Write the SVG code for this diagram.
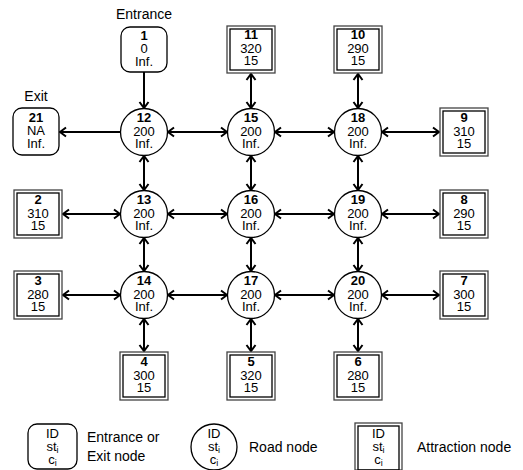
<svg xmlns="http://www.w3.org/2000/svg" width="523" height="470" viewBox="0 0 523 470">
<style>
text{font-family:"Liberation Sans",Arial,sans-serif;font-size:13px;fill:#000;text-anchor:middle}
.b{font-weight:bold}
.lbl{font-size:14px}
.lg{font-size:14px;text-anchor:start}
.sub{font-size:9px}
.n{fill:#fff;stroke:#000;stroke-width:1.3}
.o{fill:#fff;stroke:#444;stroke-width:1.3}
.i{fill:none;stroke:#000;stroke-width:1.3}
.c line{stroke:#000;stroke-width:2}
</style>
<defs>
<marker id="a" markerUnits="userSpaceOnUse" markerWidth="12" markerHeight="12" refX="8" refY="6" orient="auto-start-reverse" viewBox="0 0 12 12">
<path d="M2,1.5 L8,6 L2,10.5" fill="none" stroke="#000" stroke-width="2"/>
</marker>
</defs>
<text class="lbl" x="144" y="19">Entrance</text>
<text class="lbl" x="36" y="101">Exit</text>
<g class="c" id="connectors">
<line x1="144" y1="72" x2="144" y2="108" marker-end="url(#a)"/>
<line x1="121" y1="132" x2="60" y2="132" marker-end="url(#a)"/>
<line x1="168" y1="132" x2="227" y2="132" marker-start="url(#a)" marker-end="url(#a)"/>
<line x1="275" y1="132" x2="334" y2="132" marker-start="url(#a)" marker-end="url(#a)"/>
<line x1="382" y1="132" x2="439" y2="132" marker-start="url(#a)" marker-end="url(#a)"/>
<line x1="63" y1="214" x2="120" y2="214" marker-start="url(#a)" marker-end="url(#a)"/>
<line x1="168" y1="214" x2="227" y2="214" marker-start="url(#a)" marker-end="url(#a)"/>
<line x1="275" y1="214" x2="334" y2="214" marker-start="url(#a)" marker-end="url(#a)"/>
<line x1="382" y1="214" x2="439" y2="214" marker-start="url(#a)" marker-end="url(#a)"/>
<line x1="63" y1="295" x2="120" y2="295" marker-start="url(#a)" marker-end="url(#a)"/>
<line x1="168" y1="295" x2="227" y2="295" marker-start="url(#a)" marker-end="url(#a)"/>
<line x1="275" y1="295" x2="334" y2="295" marker-start="url(#a)" marker-end="url(#a)"/>
<line x1="382" y1="295" x2="439" y2="295" marker-start="url(#a)" marker-end="url(#a)"/>
<line x1="251" y1="74" x2="251" y2="108" marker-start="url(#a)" marker-end="url(#a)"/>
<line x1="358" y1="74" x2="358" y2="108" marker-start="url(#a)" marker-end="url(#a)"/>
<line x1="144" y1="156" x2="144" y2="190" marker-start="url(#a)" marker-end="url(#a)"/>
<line x1="251" y1="156" x2="251" y2="190" marker-start="url(#a)" marker-end="url(#a)"/>
<line x1="358" y1="156" x2="358" y2="190" marker-start="url(#a)" marker-end="url(#a)"/>
<line x1="144" y1="238" x2="144" y2="271" marker-start="url(#a)" marker-end="url(#a)"/>
<line x1="251" y1="238" x2="251" y2="271" marker-start="url(#a)" marker-end="url(#a)"/>
<line x1="358" y1="238" x2="358" y2="271" marker-start="url(#a)" marker-end="url(#a)"/>
<line x1="144" y1="319" x2="144" y2="351" marker-start="url(#a)" marker-end="url(#a)"/>
<line x1="251" y1="319" x2="251" y2="351" marker-start="url(#a)" marker-end="url(#a)"/>
<line x1="358" y1="319" x2="358" y2="351" marker-start="url(#a)" marker-end="url(#a)"/>
</g>
<g id="n1"><rect class="n" x="121" y="27" width="46" height="45" rx="9"/><text class="b" x="144" y="40">1</text><text x="144" y="53">0</text><text x="144" y="66">Inf.</text></g>
<g id="n21"><rect class="n" x="13" y="108" width="46" height="47" rx="9"/><text class="b" x="36" y="122">21</text><text x="36" y="135">NA</text><text x="36" y="148">Inf.</text></g>
<g id="n12"><circle class="n" cx="144" cy="132" r="23.5"/><text class="b" x="144" y="122">12</text><text x="144" y="135.5">200</text><text x="144" y="148">Inf.</text></g>
<g id="n15"><circle class="n" cx="251" cy="132" r="23.5"/><text class="b" x="251" y="122">15</text><text x="251" y="135.5">200</text><text x="251" y="148">Inf.</text></g>
<g id="n18"><circle class="n" cx="358" cy="132" r="23.5"/><text class="b" x="358" y="122">18</text><text x="358" y="135.5">200</text><text x="358" y="148">Inf.</text></g>
<g id="n13"><circle class="n" cx="144" cy="214" r="23.5"/><text class="b" x="144" y="204">13</text><text x="144" y="217.5">200</text><text x="144" y="230">Inf.</text></g>
<g id="n16"><circle class="n" cx="251" cy="214" r="23.5"/><text class="b" x="251" y="204">16</text><text x="251" y="217.5">200</text><text x="251" y="230">Inf.</text></g>
<g id="n19"><circle class="n" cx="358" cy="214" r="23.5"/><text class="b" x="358" y="204">19</text><text x="358" y="217.5">200</text><text x="358" y="230">Inf.</text></g>
<g id="n14"><circle class="n" cx="144" cy="295" r="23.5"/><text class="b" x="144" y="285">14</text><text x="144" y="298.5">200</text><text x="144" y="311">Inf.</text></g>
<g id="n17"><circle class="n" cx="251" cy="295" r="23.5"/><text class="b" x="251" y="285">17</text><text x="251" y="298.5">200</text><text x="251" y="311">Inf.</text></g>
<g id="n20"><circle class="n" cx="358" cy="295" r="23.5"/><text class="b" x="358" y="285">20</text><text x="358" y="298.5">200</text><text x="358" y="311">Inf.</text></g>
<g id="n11"><rect class="o" x="227" y="26" width="48" height="47"/><rect class="i" x="230" y="29" width="42" height="41"/><text class="b" x="251" y="39">11</text><text x="251" y="52.5">320</text><text x="251" y="65">15</text></g>
<g id="n10"><rect class="o" x="334" y="26" width="48" height="47"/><rect class="i" x="337" y="29" width="42" height="41"/><text class="b" x="358" y="39">10</text><text x="358" y="52.5">290</text><text x="358" y="65">15</text></g>
<g id="n9"><rect class="o" x="440" y="108" width="48" height="48"/><rect class="i" x="443" y="111" width="42" height="42"/><text class="b" x="464" y="122">9</text><text x="464" y="135.5">310</text><text x="464" y="148">15</text></g>
<g id="n8"><rect class="o" x="440" y="190" width="48" height="48"/><rect class="i" x="443" y="193" width="42" height="42"/><text class="b" x="464" y="204">8</text><text x="464" y="217.5">290</text><text x="464" y="230">15</text></g>
<g id="n7"><rect class="o" x="440" y="271" width="48" height="48"/><rect class="i" x="443" y="274" width="42" height="42"/><text class="b" x="464" y="285">7</text><text x="464" y="298.5">300</text><text x="464" y="311">15</text></g>
<g id="n2"><rect class="o" x="14" y="190" width="48" height="48"/><rect class="i" x="17" y="193" width="42" height="42"/><text class="b" x="38" y="204">2</text><text x="38" y="217.5">310</text><text x="38" y="230">15</text></g>
<g id="n3"><rect class="o" x="14" y="271" width="48" height="48"/><rect class="i" x="17" y="274" width="42" height="42"/><text class="b" x="38" y="285">3</text><text x="38" y="298.5">280</text><text x="38" y="311">15</text></g>
<g id="n4"><rect class="o" x="120" y="352" width="48" height="48"/><rect class="i" x="123" y="355" width="42" height="42"/><text class="b" x="144" y="366">4</text><text x="144" y="379.5">300</text><text x="144" y="392">15</text></g>
<g id="n5"><rect class="o" x="227" y="352" width="48" height="48"/><rect class="i" x="230" y="355" width="42" height="42"/><text class="b" x="251" y="366">5</text><text x="251" y="379.5">320</text><text x="251" y="392">15</text></g>
<g id="n6"><rect class="o" x="334" y="352" width="48" height="48"/><rect class="i" x="337" y="355" width="42" height="42"/><text class="b" x="358" y="366">6</text><text x="358" y="379.5">280</text><text x="358" y="392">15</text></g>
<g id="legend-entrance"><rect class="n" x="28" y="424" width="49" height="45" rx="9"/><text x="52.5" y="438">ID</text><text x="52.5" y="451">st<tspan class="sub" dy="2">i</tspan></text><text x="52.5" y="464">c<tspan class="sub" dy="2">i</tspan></text><text class="lg" x="87" y="442">Entrance or</text><text class="lg" x="87" y="461">Exit node</text></g>
<g id="legend-road"><circle class="n" cx="214" cy="447" r="23"/><text x="214" y="438">ID</text><text x="214" y="451">st<tspan class="sub" dy="2">i</tspan></text><text x="214" y="464">c<tspan class="sub" dy="2">i</tspan></text><text class="lg" x="249" y="452">Road node</text></g>
<g id="legend-attraction"><rect class="o" x="355" y="423" width="47" height="47"/><rect class="i" x="358" y="426" width="41" height="44"/><text x="378.5" y="438">ID</text><text x="378.5" y="451">st<tspan class="sub" dy="2">i</tspan></text><text x="378.5" y="464">c<tspan class="sub" dy="2">i</tspan></text><text class="lg" x="417" y="452">Attraction node</text></g>
</svg>
